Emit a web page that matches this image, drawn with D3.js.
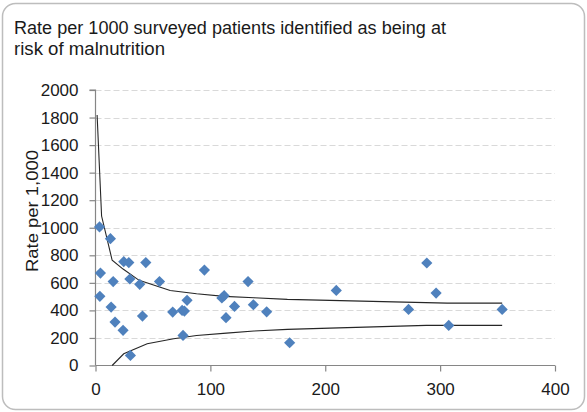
<!DOCTYPE html>
<html>
<head>
<meta charset="utf-8">
<script src="https://cdn.jsdelivr.net/npm/d3@7"></script>
<style>
  html, body { margin: 0; padding: 0; background: #fff; }
  svg { display: block; }
  text { font-family: "Liberation Sans", Arial, sans-serif; fill: #1a1a1a; }
</style>
</head>
<body>
<div id="chart"></div>
<script>
// ---- data ----
const titleLines = ["Rate per 1000 surveyed patients identified as being at", "risk of malnutrition"];
const yLabel = "Rate per 1,000";
const xTicks = [0, 100, 200, 300, 400];
const yTicks = [0, 200, 400, 600, 800, 1000, 1200, 1400, 1600, 1800, 2000];

// surveyed patients (x) and rate per 1,000 (y) for each unit
const surveyed = [3.5, 13, 4.3, 3.8, 15.4, 13.6, 17, 24, 24.6, 29, 29.9, 30.4, 38.5, 43.8, 40.9, 55.7,
  67.2, 75.4, 77.4, 79.7, 76.2, 94.8, 110, 112, 121, 113.6, 132.8, 137.4, 149, 169, 209.6, 288.4,
  296.5, 272.5, 307.5, 354];
const rate = [1006, 921, 671, 502, 609, 424, 315, 255, 754, 747, 628, 73, 589, 747, 359, 609,
  388, 400, 395, 473, 218, 693, 490, 507, 429, 347, 609, 441, 390, 165, 545, 744,
  526, 407, 291, 407];

// control limits (funnel)
const upperX = [1.4, 5.3, 14.5, 24, 38, 65, 88, 112, 138, 167, 204, 306, 354];
const upperY = [1818, 1085, 764, 700, 618, 545, 521, 502, 492, 480, 473, 453, 453];
const lowerX = [14.5, 24.6, 45, 68, 88, 114, 138, 167, 204, 288, 354];
const lowerY = [0, 85, 158, 194, 218, 235, 250, 262, 271, 291, 291];

// ---- drawing ----
const W = 587, H = 412;
const svg = d3.select("#chart").append("svg").attr("width", W).attr("height", H);

svg.append("rect")
  .attr("x", 2.5).attr("y", 3.5).attr("width", 582).attr("height", 406)
  .attr("rx", 13).attr("ry", 13)
  .attr("fill", "#fff").attr("stroke", "#bdbdbd").attr("stroke-width", 1.5);

const x = d3.scaleLinear().domain([0, 400]).range([95.5, 555]);
const y = d3.scaleLinear().domain([0, 2000]).range([365.5, 90]);

// title
svg.append("text").attr("x", 14).attr("y", 34).attr("font-size", 17.5)
  .attr("textLength", 432).attr("lengthAdjust", "spacingAndGlyphs").text(titleLines[0]);
svg.append("text").attr("x", 14).attr("y", 55).attr("font-size", 17.5)
  .attr("textLength", 151).attr("lengthAdjust", "spacingAndGlyphs").text(titleLines[1]);

// gridlines
svg.append("g").selectAll("line").data(yTicks.filter(d => d > 0)).join("line")
  .attr("x1", x(0)).attr("x2", x(400))
  .attr("y1", d => Math.round(y(d)) + 0.5).attr("y2", d => Math.round(y(d)) + 0.5)
  .attr("stroke", "#d9d9d9").attr("stroke-width", 1).attr("stroke-dasharray", "6,3");

// axes
const axisColor = "#868686";
const gy = svg.append("g").attr("transform", `translate(${x(0)},0)`)
  .call(d3.axisLeft(y).tickValues(yTicks).tickSize(6).tickPadding(11).tickFormat(d3.format("d")));
const gx = svg.append("g").attr("transform", `translate(0,${y(0)})`)
  .call(d3.axisBottom(x).tickValues(xTicks).tickSize(6).tickPadding(11).tickFormat(d3.format("d")));
[gx, gy].forEach(g => {
  g.select(".domain").attr("stroke", axisColor).attr("stroke-width", 1.2);
  g.selectAll(".tick line").attr("stroke", axisColor).attr("stroke-width", 1.2);
  g.selectAll(".tick text").attr("font-size", 17).attr("fill", "#1a1a1a")
    .attr("font-family", "Liberation Sans, Arial, sans-serif");
});
gy.select(".domain").attr("d", `M-6,${y(2000)}H0V${y(0)}`);
gx.select(".domain").attr("d", `M${x(0)},0H${x(400)}`);

// y label
svg.append("text").attr("transform", "translate(38,211) rotate(-90)")
  .attr("text-anchor", "middle").attr("font-size", 16)
  .attr("textLength", 122).attr("lengthAdjust", "spacingAndGlyphs").text(yLabel);

// funnel lines
const line = d3.line().x(d => x(d[0])).y(d => y(d[1]));
const upper = upperX.map((v, i) => [v, upperY[i]]);
const lower = lowerX.map((v, i) => [v, lowerY[i]]);
[upper, lower].forEach(pts => {
  svg.append("path").attr("d", line(pts)).attr("fill", "none")
    .attr("stroke", "#262626").attr("stroke-width", 1.1);
});

// diamonds
const r = 5.6;
const diamond = `M0,${-r}L${r},0L0,${r}L${-r},0Z`;
svg.append("g").selectAll("path").data(surveyed.map((v, i) => [v, rate[i]])).join("path")
  .attr("d", diamond)
  .attr("transform", d => `translate(${x(d[0])},${y(d[1])})`)
  .attr("fill", "#4f81bd");
</script>
</body>
</html>
